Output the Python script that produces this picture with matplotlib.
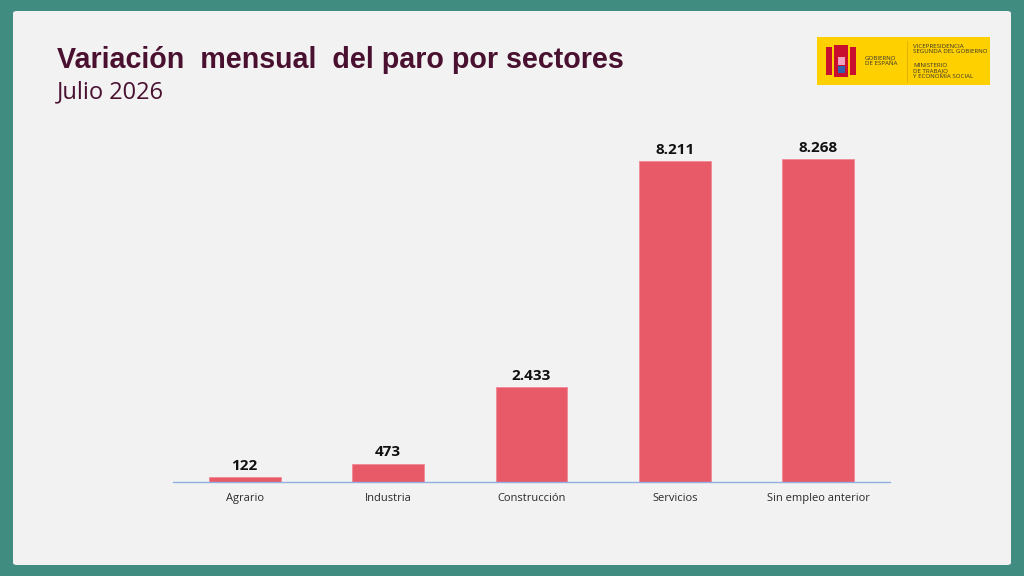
import matplotlib.pyplot as plt
from matplotlib.patches import FancyBboxPatch, Rectangle

sectores = ["Agrario", "Industria", "Construcción", "Servicios", "Sin empleo anterior"]
valores = [122, 473, 2433, 8211, 8268]
etiquetas = ["122", "473", "2.433", "8.211", "8.268"]

titulo = "Variación  mensual  del paro por sectores"
subtitulo = "Julio 2026"

teal = "#408c80"
panel = "#f2f2f2"
granate = "#4a1030"
rojo = "#e85a68"

fig = plt.figure(figsize=(10.24, 5.76), dpi=100)
fig.patch.set_facecolor(teal)

# panel gris claro (por debajo de los ejes)
fig.patches.append(FancyBboxPatch((13 / 1024, 11 / 576), 998 / 1024, 554 / 576,
                                  boxstyle="round,pad=0,rounding_size=0.004",
                                  transform=fig.transFigure, facecolor=panel,
                                  edgecolor="none", zorder=-2))

fig.text(57 / 1024, 1 - 68 / 576, titulo, fontsize=20.6, fontweight="bold",
         color=granate, family="Liberation Sans", va="baseline")
fig.text(57 / 1024, 1 - 98 / 576, subtitulo, fontsize=17, color=granate,
         family="Open Sans", va="baseline")

# logo
lx, ly, lw, lh = 817 / 1024, 1 - 85 / 576, 173 / 1024, 48 / 576
fig.patches.append(Rectangle((lx, ly), lw, lh, transform=fig.transFigure,
                             facecolor="#ffd000", edgecolor="none", zorder=-1))
for dx, dy, w, h, c in [(826, 47, 6, 28, "#c8102e"), (850, 47, 6, 28, "#c8102e"),
                        (834, 45, 14, 8, "#c8102e"), (834, 53, 14, 24, "#c8102e"),
                        (838, 57, 7, 8, "#f0a0c0"), (838, 66, 7, 7, "#3060b0")]:
    fig.patches.append(Rectangle((dx / 1024, 1 - (dy + h) / 576), w / 1024, h / 576,
                                 transform=fig.transFigure, facecolor=c,
                                 edgecolor="none", zorder=-1))
fig.text(865 / 1024, 1 - 61 / 576, "GOBIERNO\nDE ESPAÑA", fontsize=4.4,
         color="#333333", family="Open Sans", va="center", linespacing=1.2)
fig.add_artist(plt.Line2D([907 / 1024, 907 / 1024], [1 - 41 / 576, 1 - 82 / 576],
                          color="#d9b000", lw=0.6, transform=fig.transFigure))
fig.text(913 / 1024, 1 - 49 / 576, "VICEPRESIDENCIA\nSEGUNDA DEL GOBIERNO",
         fontsize=4.4, color="#333333", family="Open Sans", va="center", linespacing=1.2)
fig.text(913 / 1024, 1 - 71 / 576, "MINISTERIO\nDE TRABAJO\nY ECONOMÍA SOCIAL",
         fontsize=4.4, color="#333333", family="Open Sans", va="center", linespacing=1.2)

ax = fig.add_axes([173 / 1024, 94 / 576, 717 / 1024, 351.6 / 576])
ax.set_facecolor("none")
x = range(len(sectores))
bars = ax.bar(x, valores, width=0.5, color=rojo, edgecolor="#f08a95", linewidth=0.6, zorder=2)
for b, t in zip(bars, etiquetas):
    ax.annotate(t, (b.get_x() + b.get_width() / 2, b.get_height()), xytext=(0, 3),
                textcoords="offset points", ha="center", va="bottom", fontsize=11,
                fontweight="bold", family="Open Sans", color="#111111")

ax.set_xlim(-0.5, 4.5)
ax.set_ylim(0, 9000)
ax.set_xticks(list(x))
ax.set_xticklabels(sectores, fontsize=8, family="Open Sans", color="#2a2a2a")
ax.tick_params(axis="x", length=0, pad=8)
ax.set_yticks([])
for s in ["top", "right", "left"]:
    ax.spines[s].set_visible(False)
ax.spines["bottom"].set_color("#8fb0e0")
ax.spines["bottom"].set_linewidth(1)

fig.savefig("out.png", dpi=100, facecolor=fig.get_facecolor())
